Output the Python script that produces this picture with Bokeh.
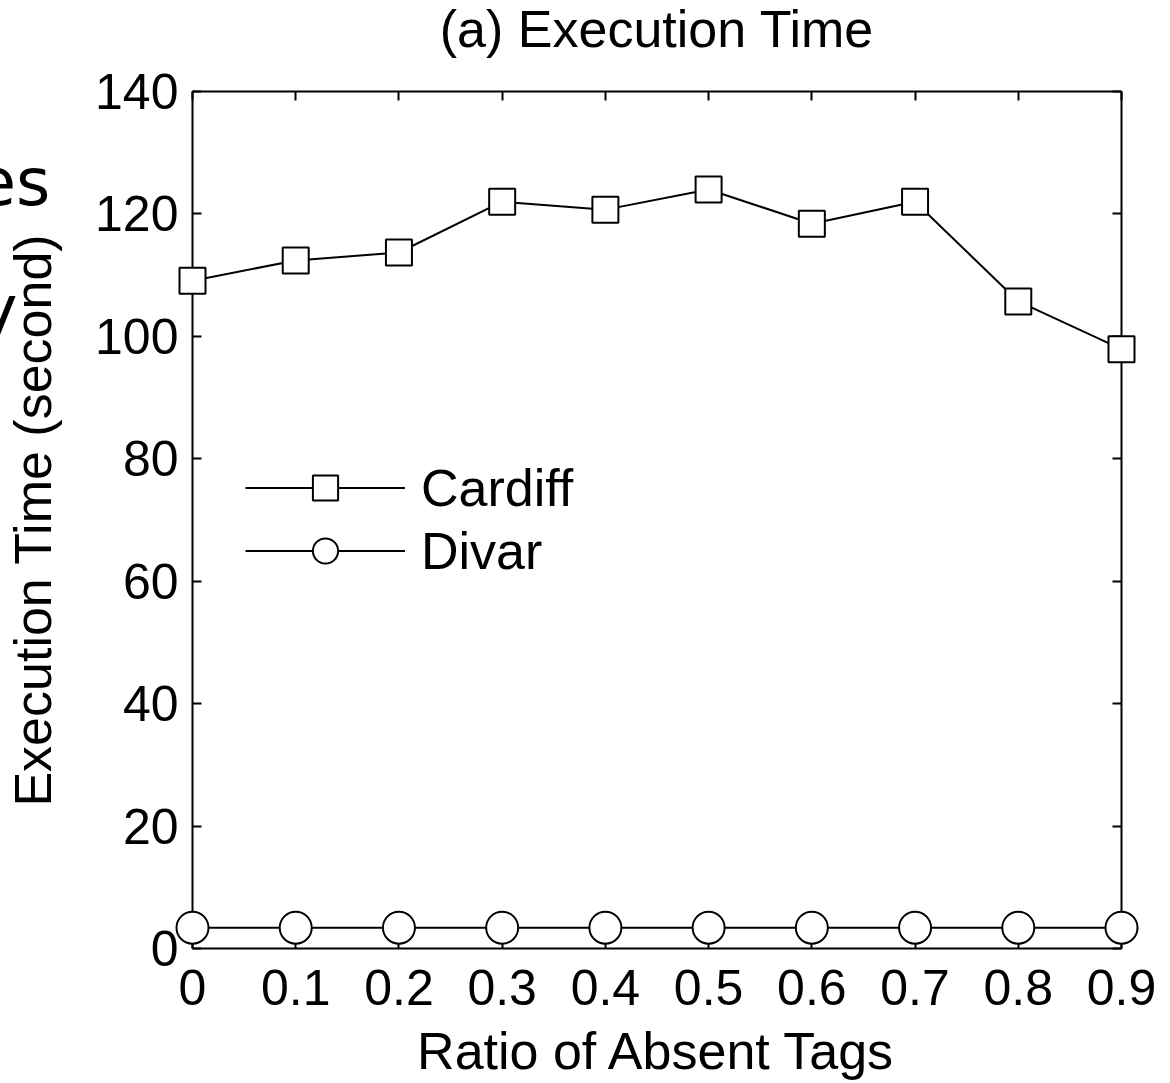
from bokeh.plotting import figure
from bokeh.models import Range1d, LinearAxis, FixedTicker, Legend, LegendItem
from bokeh.core.properties import value
from bokeh.embed import file_html
from bokeh.resources import INLINE

# ---- data ----
ratio = [0.0, 0.1, 0.2, 0.3, 0.4, 0.5, 0.6, 0.7, 0.8, 0.9]
cardiff = [109.1, 112.4, 113.7, 122.0, 120.7, 124.0, 118.4, 122.0, 105.7, 97.9]
divar = [3.4, 3.4, 3.4, 3.4, 3.4, 3.4, 3.4, 3.4, 3.4, 3.4]
x_ticks = [0.0, 0.1, 0.2, 0.3, 0.4, 0.5, 0.6, 0.7, 0.8, 0.9]
y_ticks = [0, 20, 40, 60, 80, 100, 120, 140]
x_tick_labels = {0.0: "0", 0.1: "0.1", 0.2: "0.2", 0.3: "0.3", 0.4: "0.4",
                 0.5: "0.5", 0.6: "0.6", 0.7: "0.7", 0.8: "0.8", 0.9: "0.9"}
title_text = ["(a) Execution Time"]
title_x = [0.45]
title_y = [150.2]
# fragments of neighbouring text cropped at the left edge of the reference
frag_text = ["es", "y"]
frag_x = [-0.1376, -0.1695]
frag_y = [125.1, 104.4]

FONT = "Liberation Sans"
FS = "50px"

p = figure(width=1170, height=1083, output_backend="svg", toolbar_location=None,
           x_range=Range1d(0, 0.9), y_range=Range1d(0, 140),
           min_border_left=192, min_border_right=49, min_border_top=91, min_border_bottom=135,
           x_axis_label="Ratio of Absent Tags", y_axis_label="Execution Time (second)")

p.grid.visible = False
p.outline_line_color = None
p.background_fill_color = "white"
p.border_fill_color = "white"

def style_axis(ax, ticks, show_labels):
    ax.ticker = FixedTicker(ticks=ticks)
    ax.axis_line_width = 2
    ax.axis_line_color = "black"
    ax.major_tick_in = 9
    ax.major_tick_out = 0
    ax.major_tick_line_width = 2
    ax.major_tick_line_color = "black"
    ax.minor_tick_line_color = None
    ax.major_label_text_font = FONT
    ax.major_label_text_color = "black"
    ax.major_label_text_font_size = FS
    ax.axis_label_text_font = FONT
    ax.axis_label_text_font_style = "normal"
    ax.axis_label_text_color = "black"
    ax.axis_label_text_font_size = "52px"
    if not show_labels:
        ax.major_label_overrides = {t: "" for t in ticks}
        ax.major_label_standoff = 0

style_axis(p.xaxis[0], x_ticks, True)
style_axis(p.yaxis[0], y_ticks, True)
p.xaxis[0].major_label_overrides = x_tick_labels
p.xaxis[0].major_label_standoff = 21
p.xaxis[0].axis_label_standoff = 14
p.yaxis[0].major_label_standoff = 14
p.yaxis[0].axis_label_standoff = 30

top_ax = LinearAxis()
style_axis(top_ax, x_ticks, False)
p.add_layout(top_ax, "above")
right_ax = LinearAxis()
style_axis(right_ax, y_ticks, False)
p.add_layout(right_ax, "right")

# ---- series ----
c_line = p.line(ratio, cardiff, line_color="black", line_width=2, level="overlay")
c_mark = p.scatter(ratio, cardiff, marker="square", size=26, fill_color="white",
                   line_color="black", line_width=2, level="overlay")
d_line = p.line(ratio, divar, line_color="black", line_width=2, level="overlay")
d_mark = p.scatter(ratio, divar, marker="circle", size=32, fill_color="white",
                   line_color="black", line_width=2, level="overlay")

legend = Legend(items=[LegendItem(label="Cardiff", renderers=[c_line, c_mark]),
                       LegendItem(label="Divar", renderers=[d_line, d_mark])],
                location=(53, 366), padding=0, spacing=0, margin=0,
                glyph_width=160, glyph_height=63, label_height=63,
                label_standoff=16, border_line_color=None, background_fill_alpha=0,
                label_text_font=FONT, label_text_font_size="52px", label_text_color="black")
p.add_layout(legend, "center")

# ---- title ----
p.text(x=title_x, y=title_y, text=title_text, text_align="center", text_baseline="alphabetic",
       text_font=value(FONT), text_font_size="52px", text_color="black", level="overlay")

# ---- cropped text fragments at the left edge ----
p.text(x=frag_x, y=frag_y, text=frag_text, text_align="right", text_baseline="alphabetic",
       text_font=value("DejaVu Sans"), text_font_size="66px", text_color="black",
       level="overlay")

open("out.html", "w").write(file_html(p, INLINE))
